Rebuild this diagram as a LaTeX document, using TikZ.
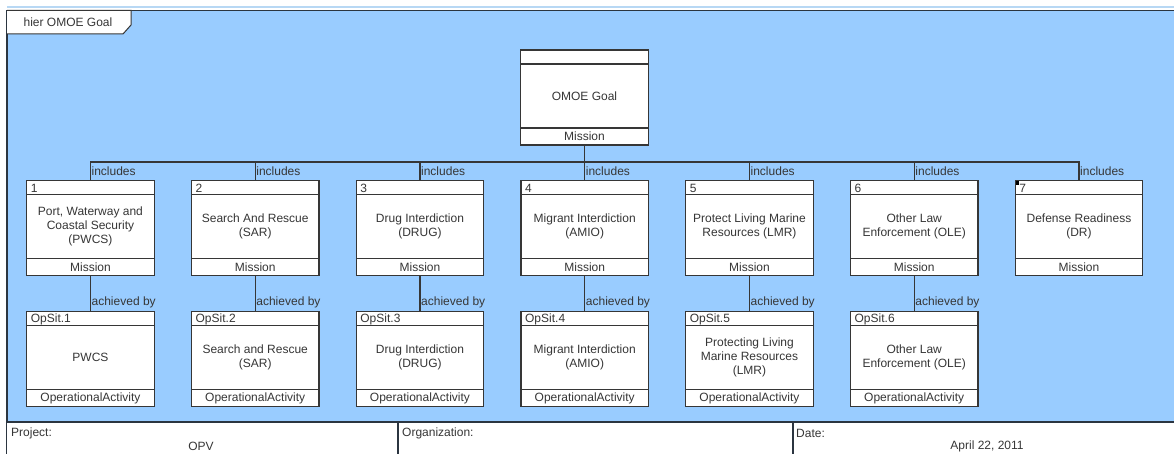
\documentclass[tikz,border=0pt]{standalone}
\usepackage{fontspec}
\setmainfont{Liberation Sans}
\definecolor{bg}{HTML}{99CCFF}
\definecolor{ink}{HTML}{363636}
\definecolor{frm}{HTML}{2B3540}
\definecolor{ltop}{HTML}{B8D8F4}
\tikzset{
  ln/.style={draw=ink, line width=1.1pt},
  boxs/.style={ln, fill=white, rectangle, minimum width=127.5pt, minimum height=95pt, inner sep=0pt, outer sep=0pt},
  txt/.style={text=ink, font=\fontsize{12}{14}\selectfont, inner sep=0pt, align=center},
  lbl/.style={text=ink, font=\fontsize{12}{14}\selectfont, inner sep=1pt},
}
\newcommand\mybox[6]{%
  \node[boxs, anchor=north west] (#1) at (#2,#3) {};
  \draw[ln] ([yshift=-14pt]#1.north west) -- ([yshift=-14pt]#1.north east);
  \draw[ln] ([yshift=17pt]#1.south west) -- ([yshift=17pt]#1.south east);
  \node[txt, anchor=west] (#1h) at ([xshift=4pt,yshift=-7.5pt]#1.north west) {#4};
  \node[txt] (#1b) at ([yshift=1.5pt]#1.center) {#5};
  \node[txt] (#1f) at ([yshift=8.5pt]#1.south) {#6};
}
\begin{document}
\begin{tikzpicture}[x=1pt,y=-1pt]
\useasboundingbox (0,0) rectangle (1174,454);
\fill[white] (0,0) rectangle (1174,454);
% frame
\fill[bg] (7,10) rectangle (1174,422);
\draw[ltop, line width=2pt] (7,7.5) -- (1174,7.5);
\draw[frm, line width=1.6pt] (1174,10.5) -- (7,10.5) -- (7,454);
% tab
\draw[ink, line width=1pt, fill=white] (7,10.5) -- (131,10.5) -- (131,25) -- (123,34) -- (7,34);
\node[txt] (tab) at (68,22) {hier OMOE Goal};
% footer
\fill[white] (7,422) rectangle (1174,454);
\draw[frm, line width=2pt] (7,422) -- (1174,422);
\draw[frm, line width=1.4pt] (398,422) -- (398,454);
\draw[frm, line width=1.4pt] (793,422) -- (793,454);
\node[lbl, anchor=west] (proj) at (10,433) {Project:};
\node[lbl] (opv) at (201,446.5) {OPV};
\node[lbl, anchor=west] (org) at (401,433) {Organization:};
\node[lbl, anchor=west] (date) at (795,433) {Date:};
\node[lbl] (datev) at (987,446.5) {April 22, 2011};
% boxes
\mybox{m0}{520.7}{50}{}{OMOE Goal}{Mission}
\mybox{b1}{26.7}{180.7}{1}{Port, Waterway and\\Coastal Security\\(PWCS)}{Mission}
\mybox{b2}{191.45}{180.7}{2}{Search And Rescue\\(SAR)}{Mission}
\mybox{b3}{356.2}{180.7}{3}{Drug Interdiction\\(DRUG)}{Mission}
\mybox{b4}{520.95}{180.7}{4}{Migrant Interdiction\\(AMIO)}{Mission}
\mybox{b5}{685.7}{180.7}{5}{Protect Living Marine\\Resources (LMR)}{Mission}
\mybox{b6}{850.45}{180.7}{6}{Other Law\\Enforcement (OLE)}{Mission}
\mybox{b7}{1015.2}{180.7}{7}{Defense Readiness\\(DR)}{Mission}
\mybox{o1}{26.7}{311.7}{OpSit.1}{PWCS}{OperationalActivity}
\mybox{o2}{191.45}{311.7}{OpSit.2}{Search and Rescue\\(SAR)}{OperationalActivity}
\mybox{o3}{356.2}{311.7}{OpSit.3}{Drug Interdiction\\(DRUG)}{OperationalActivity}
\mybox{o4}{520.95}{311.7}{OpSit.4}{Migrant Interdiction\\(AMIO)}{OperationalActivity}
\mybox{o5}{685.7}{311.7}{OpSit.5}{Protecting Living\\Marine Resources\\(LMR)}{OperationalActivity}
\mybox{o6}{850.45}{311.7}{OpSit.6}{Other Law\\Enforcement (OLE)}{OperationalActivity}
\fill[black] (1015.7,181.2) rectangle ++(3.5,3.5);
% connectors
\draw[ln] (m0.south) -- ++(0,17) coordinate (bus);
\foreach \i in {1,...,7}{
  \draw[ln] (bus) -| (b\i.north);
  \node[lbl, anchor=west] (inc\i) at ([yshift=9pt]b\i.north) {includes};
}
\foreach \i in {1,...,6}{
  \draw[ln] (b\i.south) -- (o\i.north);
  \node[lbl, anchor=west] (ach\i) at ([yshift=9pt]o\i.north) {achieved by};
}
\end{tikzpicture}
\end{document}
